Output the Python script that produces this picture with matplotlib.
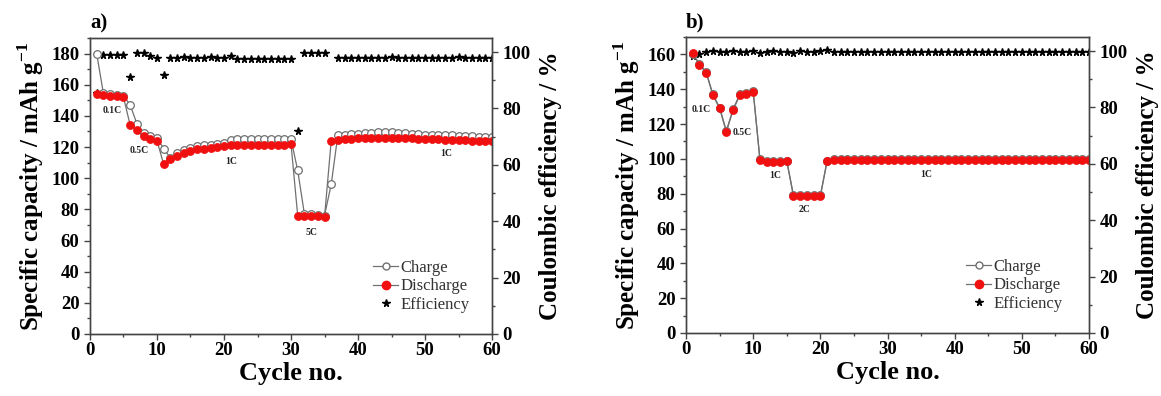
import numpy as np
import matplotlib
matplotlib.use('Agg')
import matplotlib.pyplot as plt
from matplotlib.lines import Line2D
from matplotlib.ticker import MultipleLocator

plt.rcParams['font.family'] = ['Liberation Serif', 'DejaVu Serif']
plt.rcParams['mathtext.fontset'] = 'custom'
plt.rcParams['mathtext.rm'] = 'Liberation Serif:bold'
plt.rcParams['mathtext.bf'] = 'Liberation Serif:bold'

cycles = np.arange(1, 61)

# panel a
charge_a = [180, 154.5, 154, 153.5, 153, 147, 135, 129, 127, 126,
            119, 113, 116, 118, 119.5, 120.5, 121, 121.5, 122, 122.5,
            124.5, 125, 125, 125, 125, 125, 125, 125, 125, 125,
            105, 77, 77, 76.5, 76, 96, 128, 128, 128.5, 128.5,
            129, 129, 129.5, 129.5, 129.5, 129, 129, 128.5, 128.5, 128,
            128, 128, 127.5, 127.5, 127, 127, 127, 126.5, 126.5, 126.5]
discharge_a = [154, 153.5, 153, 152.5, 152, 134, 131, 127, 125, 124,
               109, 112, 114, 116, 117.5, 118.5, 119, 119.5, 120, 120.5,
               121.5, 121.5, 121.5, 121.5, 121.5, 121.5, 121.5, 121.5, 121.5, 122,
               76, 76, 76, 75.5, 75, 124, 124.5, 125, 125, 125.5,
               125.5, 126, 126, 126, 126, 125.5, 125.5, 125.5, 125, 125,
               125, 125, 124.5, 124.5, 124.5, 124.5, 124, 124, 124, 124]
eff_a = [85.5, 99, 99, 99, 99, 91, 99.5, 99.5, 98.5, 98,
         92, 98, 98, 98.2, 98, 98, 98, 98.2, 98, 98,
         98.6, 97.4, 97.4, 97.6, 97.4, 97.4, 97.4, 97.4, 97.4, 97.4,
         72, 99.5, 99.5, 99.5, 99.5, 129, 97.8, 97.8, 97.8, 97.8,
         98, 97.8, 97.8, 97.8, 98.2, 97.8, 97.8, 97.8, 97.8, 97.8,
         97.8, 97.8, 97.8, 97.8, 98.2, 97.8, 97.8, 97.8, 97.8, 97.8]
labels_a = ['0.1C', '0.5C', '1C', '5C', '1C']
label_x_a = [3.3, 7.3, 21.1, 33.1, 53.1]
label_y_a = [143.5, 118, 110.7, 65, 116]

# panel b
discharge_b = [161, 154, 149.5, 136.5, 129, 115.5, 128, 136.5, 137.5, 138.5,
               99.5, 98, 98, 98, 98.5, 78.5, 78.5, 78.5, 78.5, 78.5,
               98.5, 99.5, 99.5, 99.5, 99.5, 99.5, 99.5, 99.5, 99.5, 99.5,
               99.5, 99.5, 99.5, 99.5, 99.5, 99.5, 99.5, 99.5, 99.5, 99.5,
               99.5, 99.5, 99.5, 99.5, 99.5, 99.5, 99.5, 99.5, 99.5, 99.5,
               99.5, 99.5, 99.5, 99.5, 99.5, 99.5, 99.5, 99.5, 99.5, 99.5]
charge_b = [160, 154.5, 150, 137, 129.5, 116, 128.5, 137, 138, 139,
            100, 98.5, 98.5, 98.5, 99, 79, 79, 79, 79, 79,
            99, 100, 100, 100, 100, 100, 100, 100, 100, 100,
            100, 100, 100, 100, 100, 100, 100, 100, 100, 100,
            100, 100, 100, 100, 100, 100, 100, 100, 100, 100,
            100, 100, 100, 100, 100, 100, 100, 100, 100, 100]
eff_b = [98.3, 98.9, 99.5, 100, 99.8, 99.6, 100, 99.8, 99.5, 100,
         99.3, 99.8, 100, 99.8, 99.8, 99.4, 100, 99.8, 99.8, 100,
         100.3, 99.8, 99.8, 99.8, 99.8, 99.8, 99.8, 99.8, 99.8, 99.8,
         99.8, 99.8, 99.8, 99.8, 99.8, 99.8, 99.8, 99.8, 99.8, 99.8,
         99.8, 99.8, 99.8, 99.8, 99.8, 99.8, 99.8, 99.8, 99.8, 99.8,
         99.8, 99.8, 99.8, 99.8, 99.8, 99.8, 99.8, 99.8, 99.8, 99.8]
labels_b = ['0.1C', '0.5C', '1C', '2C', '1C']
label_x_b = [2.3, 8.4, 13.3, 17.7, 35.8]
label_y_b = [128.3, 115.3, 90.4, 70.8, 90.9]

line_col = '#707070'
red = '#f01010'


def panel(rect, letter, charge, discharge, eff, ymax, ystep, labels, lx, ly, leg_anchor):
    ax = fig.add_axes(rect)
    ax2 = ax.twinx()
    ax.set_zorder(ax2.get_zorder() + 1)
    ax.patch.set_visible(False)

    ax2.plot(cycles, eff, ls='none', marker='*', color='black', markersize=5.5)
    ax.plot(cycles, charge, color=line_col, lw=0.9, marker='o', markersize=5.5,
            mfc='white', mec=line_col, mew=0.9)
    ax.plot(cycles, discharge, color=line_col, lw=0.9, marker='o', markersize=5.8,
            mfc=red, mec=red, mew=0.5)

    for t, x, y in zip(labels, lx, ly):
        ax.text(x, y, t, fontsize=7, fontweight='bold', ha='center', va='center', color='#222222')

    ax.set_xlim(0, 60)
    ax.set_ylim(0, ymax)
    ax2.set_ylim(0, 105)
    ax.xaxis.set_major_locator(MultipleLocator(10))
    ax.xaxis.set_minor_locator(MultipleLocator(5))
    ax.yaxis.set_major_locator(MultipleLocator(ystep))
    ax.yaxis.set_minor_locator(MultipleLocator(ystep / 2))
    ax2.yaxis.set_major_locator(MultipleLocator(20))
    ax2.yaxis.set_minor_locator(MultipleLocator(10))

    for a in (ax, ax2):
        a.tick_params(which='major', length=4, width=1, direction='out', labelsize=13.5, color='#444444')
        a.tick_params(which='minor', length=2.5, width=1, direction='out', color='#444444')
        for s in a.spines.values():
            s.set_color('#444444')
            s.set_linewidth(1)
        for lab in a.get_xticklabels() + a.get_yticklabels():
            lab.set_fontweight('bold')
    ax.tick_params(axis='x', pad=2)

    ax.set_xlabel('Cycle no.', fontsize=19, fontweight='bold', labelpad=2)
    ax.set_ylabel(r'Specific capacity / mAh g$^{-1}$', fontsize=18, fontweight='bold', labelpad=4)
    ax2.set_ylabel('Coulombic efficiency / %', fontsize=18, fontweight='bold', labelpad=6)
    ax.text(0.0, 1.015, letter, transform=ax.transAxes, fontsize=15, fontweight='bold',
            ha='left', va='bottom')

    handles = [
        Line2D([], [], color=line_col, lw=0.9, marker='o', markersize=5, mfc='white', mec=line_col),
        Line2D([], [], color=line_col, lw=0.9, marker='o', markersize=6, mfc=red, mec=red),
        Line2D([], [], ls='none', marker='*', color='black', markersize=5.5),
    ]
    leg = ax.legend(handles, ['Charge', 'Discharge', 'Efficiency'], loc='upper left',
                    bbox_to_anchor=leg_anchor, frameon=False, fontsize=12,
                    handlelength=1.5, handletextpad=0.15, labelspacing=0.15,
                    borderpad=0, borderaxespad=0)
    for t in leg.get_texts():
        t.set_color('#333333')
    return ax


fig = plt.figure(figsize=(11.61, 3.96), dpi=100)
panel([0.0775, 0.1566, 0.3463, 0.7475], 'a)', charge_a, discharge_a, eff_a, 190, 20,
      labels_a, label_x_a, label_y_a, (0.704, 0.25))
panel([0.5909, 0.1591, 0.3471, 0.7475], 'b)', charge_b, discharge_b, eff_b, 170, 20,
      labels_b, label_x_b, label_y_b, (0.695, 0.25))

fig.savefig('out.png', dpi=100)
